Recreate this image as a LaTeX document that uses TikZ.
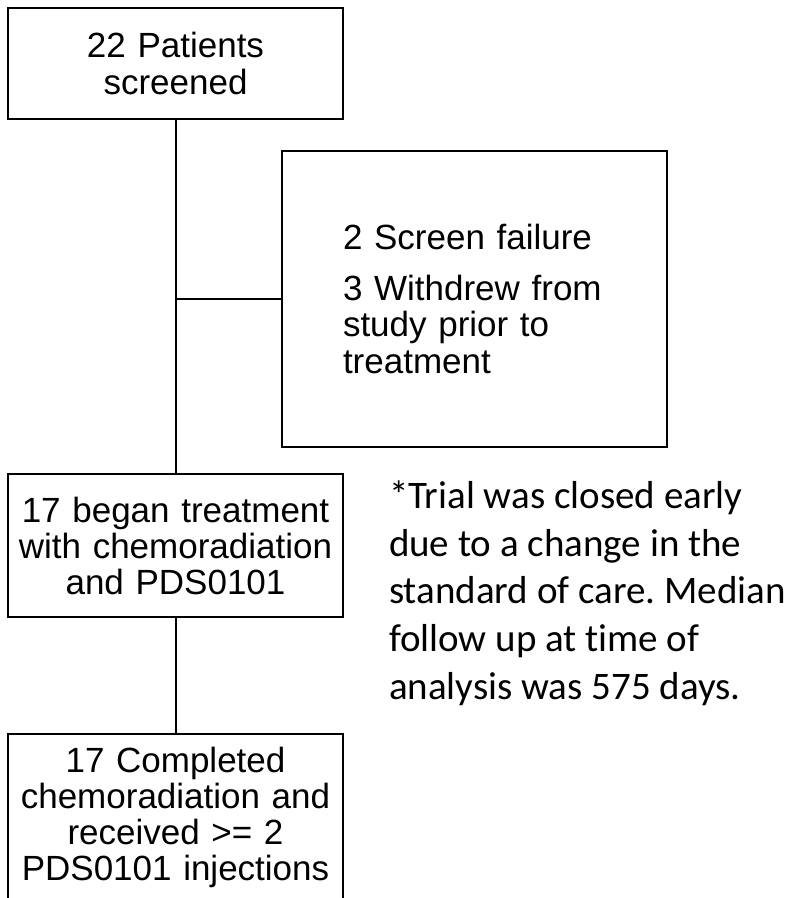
\documentclass[tikz,border=0pt]{standalone}
\usepackage{fontspec}
\setmainfont{Liberation Sans}
\newfontfamily\notefont[Ligatures={NoCommon}]{Carlito}
\frenchspacing
\tikzset{
  flowbox/.style={draw,line width=2pt,minimum width=335pt,inner xsep=0pt,text width=320pt,align=center,font=\fontsize{35}{36}\selectfont}
}
\begin{document}
\begin{tikzpicture}[x=1pt,y=-1pt,line width=2pt]
\useasboundingbox (0,0) rectangle (792,898);
\clip (0,0) rectangle (792,898);
\node [flowbox,minimum height=111pt,font=\fontsize{35}{37.7}\selectfont] (screened) at (175.5,63.5) {22 Patients\\screened};
\node [draw,minimum width=385pt,minimum height=296pt,inner xsep=0pt,text width=263pt,align=left,font=\fontsize{35}{36.5}\selectfont] (excluded) at (474.5,299) {2 Screen failure\\[14pt]3 Withdrew from\\study prior to\\treatment};
\node [flowbox,minimum height=143pt] (began) at (175.5,545.5) {17 began treatment\\with chemoradiation\\and PDS0101};
\node [flowbox,anchor=north,inner ysep=13.5pt] (completed) at (175.5,733) {17 Completed\\chemoradiation and\\received >= 2\\PDS0101 injections};
\node [anchor=north west,inner sep=0pt,align=left,font=\notefont\fontsize{39}{47.6}\selectfont] (note) at (388,480) {*Trial was closed early\\due to a change in the\\standard of care. Median\\follow up at time of\\analysis was 575 days.};
\draw (screened) -- (began);
\draw (excluded.west) -- (excluded.west -| screened.south);
\draw (began) -- (completed);
\end{tikzpicture}
\end{document}
